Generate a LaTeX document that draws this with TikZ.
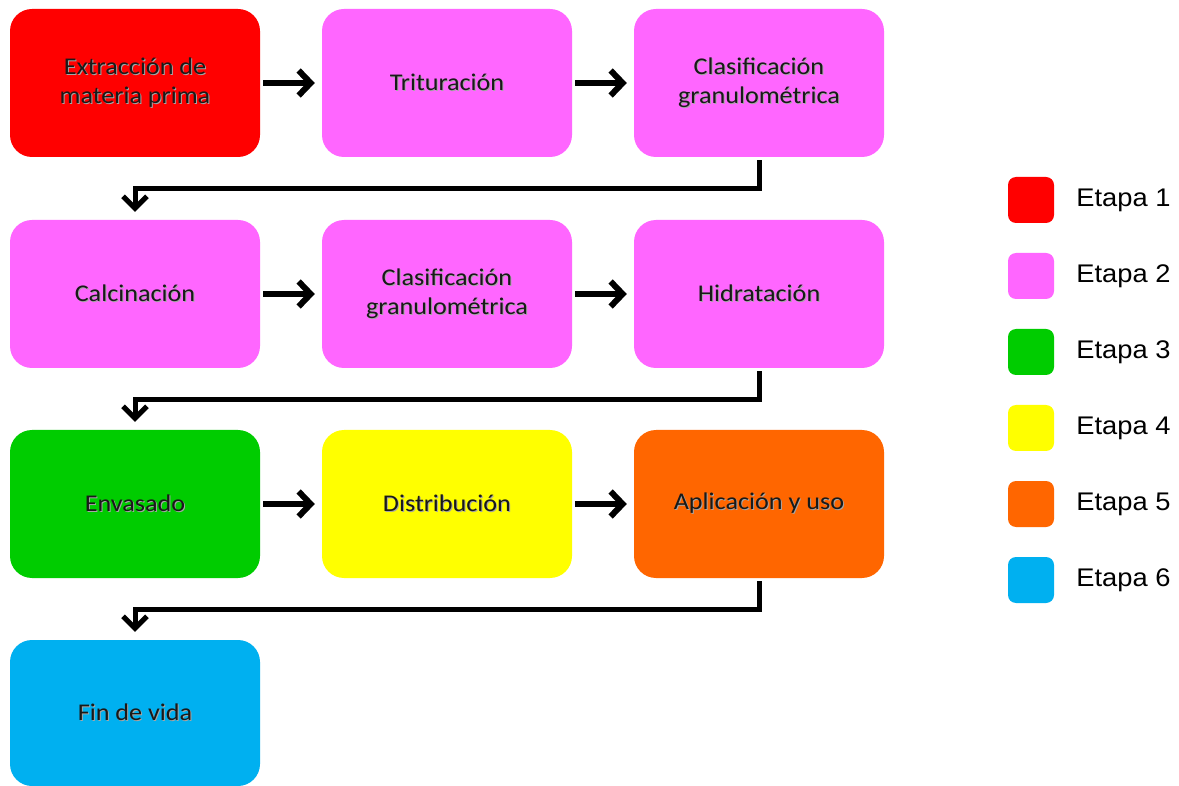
\documentclass[tikz,border=0pt]{standalone}
\usepackage{fontspec}
\setmainfont{Carlito}[FakeStretch=1.09]
\newfontfamily\legfont{Liberation Sans}[FakeStretch=1.07]
\usetikzlibrary{arrows.meta}
\definecolor{cA}{HTML}{FF0000}
\definecolor{cB}{HTML}{FF66FF}
\definecolor{cC}{HTML}{00CC00}
\definecolor{cD}{HTML}{FFFF00}
\definecolor{cE}{HTML}{FF6600}
\definecolor{cF}{HTML}{00B0F0}
\newcommand{\shd}[1]{\makebox[0pt][l]{\kern1pt\raisebox{-1pt}{\color{black!35}#1}}#1}
\begin{document}
\begin{tikzpicture}[x=1pt,y=-1pt,
  box/.style={rounded corners=22pt, minimum width=250pt, minimum height=148pt, inner sep=0pt,
    align=center, font=\fontsize{24}{29}\selectfont, text=black!90},
  flow/.style={line width=6pt, -{Straight Barb[length=12pt,width=25pt]}, shorten <=3pt, shorten >=7pt},
  link/.style={line width=5pt, -{Straight Barb[length=12pt,width=24pt]}, shorten <=3pt, shorten >=8pt},
  legbox/.style={rounded corners=8pt, minimum width=46pt, minimum height=46pt, inner sep=0pt},
  legtext/.style={anchor=west, font=\legfont\fontsize{25.5}{30}\selectfont, inner sep=0pt}
]
\useasboundingbox (0,0) rectangle (1179,786);
\fill[white] (0,0) rectangle (1179,786);
% row 1
\node[box, fill=cA] (b1) at (135,83) {\shd{Extracción de}\\\shd{materia prima}};
\node[box, fill=cB] (b2) at (447,83) {\shd{Trituración}};
\node[box, fill=cB] (b3) at (759,83) {\shd{Clasificación}\\\shd{granulométrica}};
% row 2
\node[box, fill=cB] (b4) at (135,294) {\shd{Calcinación}};
\node[box, fill=cB] (b5) at (447,294) {\shd{Clasificación}\\\shd{granulométrica}};
\node[box, fill=cB] (b6) at (759,294) {\shd{Hidratación}};
% row 3
\node[box, fill=cC] (b7) at (135,504) {\shd{Envasado}};
\node[box, fill=cD] (b8) at (447,504) {\shd{Distribución}};
\node[box, fill=cE] (b9) at (759,504) {\shd{Aplicación y uso}};
% row 4
\node[box, fill=cF, minimum height=146pt] (b10) at (135,713) {\shd{Fin de vida}};
% arrows
\draw[flow] (b1) -- (b2);
\draw[flow] (b2) -- (b3);
\draw[flow] (b4) -- (b5);
\draw[flow] (b5) -- (b6);
\draw[flow] (b7) -- (b8);
\draw[flow] (b8) -- (b9);
\draw[link] (b3.south) -- ++(0,31) -| (b4.north);
\draw[link] (b6.south) -- ++(0,31) -| (b7.north);
\draw[link] (b9.south) -- ++(0,31) -| (b10.north);
% legend
\foreach \i/\c in {1/cA,2/cB,3/cC,4/cD,5/cE,6/cF}{
  \node[legbox, fill=\c] (l\i) at (1031,{124+76*\i}) {};
  \node[legtext] (t\i) at ([xshift=22pt]l\i.east) {Etapa \i};
}
\end{tikzpicture}
\end{document}
